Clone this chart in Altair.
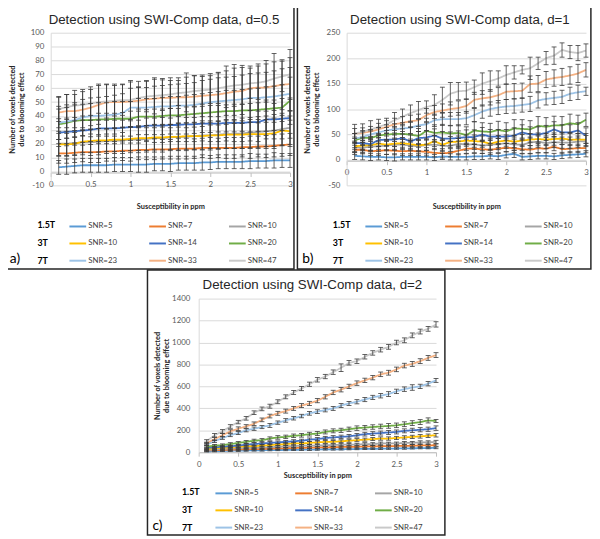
import altair as alt
import pandas as pd

# ---------------- data ----------------
X = [0.1, 0.2, 0.3, 0.4, 0.5, 0.6, 0.7, 0.8, 0.9, 1.0,
     1.1, 1.2, 1.3, 1.4, 1.5, 1.6, 1.7, 1.8, 1.9, 2.0,
     2.1, 2.2, 2.3, 2.4, 2.5, 2.6, 2.7, 2.8, 2.9, 3.0]

SERIES_KEYS = ["1|SNR=5", "2|SNR=7", "3|SNR=10", "4|SNR=10", "5|SNR=14",
               "6|SNR=20", "7|SNR=23", "8|SNR=33", "9|SNR=47"]
FIELD = ["1.5T", "1.5T", "1.5T", "3T", "3T", "3T", "7T", "7T", "7T"]
FIELD_ROWS = ["1.5T", "3T", "7T"]
COLORS = ["#5B9BD5", "#ED7D31", "#A5A5A5", "#FFC000", "#4472C4",
          "#70AD47", "#9DC3E6", "#F4B183", "#C9C9C9"]

# panel a, d=0.5
A_SNR5 = [3, 3.5, 4, 4.5, 4.5, 4.5, 4.5, 5, 5, 5, 5, 5, 5.5, 5.5, 5.5, 6, 6, 6, 6.5, 6.5, 7, 7, 7, 7, 7.5, 7.5, 7.5, 8, 8, 8]
A_SNR7 = [13, 13, 13.5, 14, 14, 14, 14.5, 14.5, 15, 15, 15.5, 15.5, 16, 16, 16, 16.5, 16.5, 16.5, 17, 17, 17, 17, 17, 17.5, 17.5, 18, 18, 18.5, 19, 19.5]
A_SNR10a = [20, 20, 20.5, 21, 21, 21.5, 22, 22, 22.5, 23, 23, 23.5, 24, 24, 24.5, 25, 25, 25.5, 26, 26, 26.5, 27, 27, 27.5, 28, 28.5, 29, 29.5, 30.5, 31.5]
A_SNR10b = [19.5, 19.5, 20, 21.5, 22, 22.5, 22.5, 23, 23, 23.5, 24, 24, 24.5, 24.5, 25, 25, 25.5, 25.5, 25.5, 26, 26, 26.5, 26.5, 26.5, 27, 27, 27, 27.5, 29.5, 29]
A_SNR14 = [28, 28.5, 29, 29.5, 30, 31, 31, 31, 31.5, 32, 32, 33, 33, 33, 33.5, 33.5, 34, 34, 34.5, 34.5, 34.5, 35, 35, 35, 35.5, 35.5, 37.5, 37.5, 38, 38.5]
A_SNR20 = [34, 35, 36.5, 37, 37, 37.5, 37.5, 38, 38, 38, 39.5, 39.5, 39.5, 40, 40.5, 40.5, 41, 41.5, 42, 42.5, 43, 43.5, 43.5, 44, 44, 44.5, 45, 45.5, 46, 51]
A_SNR23 = [35, 36, 37, 39, 40, 40, 40.5, 41, 42, 46, 46, 46, 46.5, 47, 47, 47.5, 47.5, 48, 49, 50, 50.5, 51, 51.5, 52, 53, 53, 53.5, 54, 55, 56]
A_SNR33 = [42.5, 43.5, 43.5, 44.5, 46, 48, 50, 50, 50, 50.5, 51, 52, 52.5, 53, 53, 53.5, 53.5, 54, 54.5, 55, 55.5, 56.5, 57.5, 58, 60, 60.5, 60.5, 61.5, 62.5, 63]
A_SNR47 = [45, 46.5, 47.5, 48, 49, 50, 50.5, 51, 51.5, 51.5, 53, 54, 54.5, 55, 55.5, 56.5, 57, 58, 58.5, 59, 60, 61, 62, 62.5, 63.5, 64, 65, 67, 68.5, 70]

A_ERR5 = [5, 5.5, 5, 5, 5, 5, 5, 5, 5, 5, 5.5, 5.5, 5, 5, 5.5, 5, 5, 5, 5.5, 5, 5, 5, 5, 5, 5.5, 5, 5, 5.5, 5, 5]
A_ERR7 = [7, 7, 7, 7, 7.5, 7.5, 7, 7, 7, 7.5, 7, 7, 7.5, 7, 7, 7.5, 7.5, 7, 7, 7.5, 7, 7.5, 7.5, 7, 8, 7.5, 8, 8, 8, 8]
A_ERR10a = [9, 9, 9, 9, 9.5, 9.5, 9, 9, 9.5, 9.5, 9.5, 9.5, 10, 10, 9.5, 10, 10, 10, 10.5, 10.5, 10, 10.5, 10.5, 11, 11, 11, 11, 11.5, 11.5, 12]
A_ERR10b = [8, 8, 8, 8, 8.5, 8.5, 8, 8.5, 8.5, 8.5, 9, 9, 9, 9, 9, 9.5, 9.5, 9.5, 9.5, 9.5, 10, 10, 10, 10, 10.5, 10.5, 10.5, 11, 11, 11]
A_ERR14 = [10, 10, 10, 10.5, 10.5, 11, 11, 11, 11, 11.5, 11.5, 11.5, 12, 12, 12, 12, 12.5, 12.5, 12.5, 13, 13, 13, 13.5, 13.5, 13.5, 14, 14, 14, 14.5, 14.5]
A_ERR20 = [11, 11, 11.5, 11.5, 12, 12, 12, 12.5, 12.5, 12.5, 13, 13, 13, 13.5, 13.5, 13.5, 14, 14, 14, 14.5, 14.5, 15, 15, 15, 15.5, 15.5, 16, 16, 16.5, 17]
A_ERR23 = [12, 12, 12.5, 13, 13, 13.5, 13.5, 14, 14, 14, 14.5, 14.5, 15, 15, 15.5, 15.5, 16, 16, 16.5, 16.5, 17, 17, 17, 17.5, 17.5, 18, 18, 18.5, 19, 19]
A_ERR33 = [11, 12, 12, 13, 13, 14, 13, 13, 13, 14, 14, 13.5, 14, 14, 14.5, 14, 14.5, 15, 15, 15.5, 16, 16, 17, 17, 16, 17, 17, 17.5, 18, 19]
A_ERR47 = [9, 9, 11, 11, 12, 13, 12, 11, 11, 14, 8, 11, 13, 11, 10, 9, 14, 11, 10, 10, 11, 15, 15, 14, 11, 12, 15, 18, 11, 18]

# panel b, d=1
B_SNR5 = [8, 7, 6, 6, 5, 5, 6, 6, 6, 6, 5, 7, 6, 6, 6, 7, 7, 8, 7, 10, 12, 6, 7, 8, 8, 7, 9, 10, 11, 12]
B_SNR7 = [20, 20, 17, 18, 19, 18, 17, 18, 17, 16, 14, 13, 14, 18, 22, 22, 21, 20, 22, 24, 23, 21, 20, 23, 22, 26, 21, 22, 23, 23]
B_SNR10a = [25, 24, 26, 27, 28, 30, 30, 28, 27, 29, 30, 28, 27, 32, 30, 31, 28, 30, 31, 33, 30, 30, 34, 36, 33, 35, 34, 34, 36, 37]
B_SNR10b = [27, 28, 29, 32, 30, 32, 33, 31, 29, 30, 37, 30, 35, 36, 38, 37, 36, 32, 36, 38, 36, 38, 40, 41, 40, 41, 42, 40, 40, 40]
B_SNR14 = [33, 33, 31, 39, 40, 40, 43, 36, 43, 44, 48, 42, 42, 43, 45, 45, 50, 46, 46, 46, 48, 54, 50, 50, 53, 60, 54, 54, 58, 48]
B_SNR20 = [38, 44, 43, 48, 50, 51, 51, 50, 47, 57, 53, 54, 52, 53, 49, 58, 56, 55, 59, 56, 62, 61, 60, 67, 65, 68, 68, 72, 70, 79]
B_SNR23 = [42, 45, 50, 54, 58, 60, 62, 63, 68, 70, 78, 80, 80, 80, 82, 88, 95, 100, 103, 105, 106, 108, 110, 117, 120, 122, 124, 130, 133, 135]
B_SNR33 = [52, 53, 56, 60, 65, 70, 73, 76, 78, 88, 94, 97, 100, 102, 106, 118, 121, 123, 127, 134, 135, 136, 149, 150, 158, 161, 163, 166, 170, 177]
B_SNR47 = [52, 55, 60, 65, 70, 78, 85, 92, 98, 104, 108, 118, 130, 135, 136, 143, 150, 155, 160, 167, 172, 177, 180, 190, 200, 205, 216, 212, 210, 215]

B_ERR5 = [7, 7, 7, 6, 6, 7, 6, 6, 6, 6, 6, 6, 6, 6, 6, 6, 6, 6, 6, 6, 7, 6, 6, 6, 6, 6, 6, 6, 6, 6]
B_ERR7 = [9, 8, 8, 9, 8, 8, 8, 9, 8, 8, 8, 9, 8, 8, 9, 8, 8, 9, 8, 8, 9, 8, 8, 9, 8, 8, 9, 8, 8, 9]
B_ERR10a = [10, 10, 10, 10, 10, 11, 10, 10, 11, 10, 10, 11, 10, 10, 11, 10, 10, 11, 11, 10, 11, 11, 11, 11, 11, 11, 11, 11, 11, 11]
B_ERR10b = [10, 10, 10, 11, 10, 11, 11, 10, 11, 11, 11, 11, 11, 11, 11, 12, 11, 11, 12, 11, 12, 12, 12, 12, 12, 12, 12, 12, 12, 12]
B_ERR14 = [12, 12, 12, 13, 12, 13, 13, 13, 13, 13, 13, 14, 13, 14, 14, 14, 14, 14, 14, 14, 15, 15, 15, 15, 15, 15, 15, 15, 15, 15]
B_ERR20 = [14, 14, 14, 15, 14, 15, 16, 15, 15, 16, 16, 16, 16, 16, 16, 17, 17, 17, 17, 17, 17, 18, 17, 18, 18, 18, 17, 18, 18, 13]
B_ERR23 = [10, 10, 10, 10, 11, 11, 11, 11, 12, 12, 12, 12, 13, 13, 13, 13, 13, 14, 14, 14, 14, 14, 15, 15, 12, 13, 13, 13, 14, 8]
B_ERR33 = [10, 10, 10, 12, 12, 12, 12, 12, 12, 13, 13, 13, 14, 14, 14, 15, 15, 15, 15, 15, 15, 15, 16, 16, 16, 16, 17, 17, 18, 14]
B_ERR47 = [18, 16, 17, 15, 12, 15, 15, 16, 17, 12, 20, 25, 22, 17, 17, 14, 21, 20, 15, 18, 13, 8, 22, 12, 13, 17, 14, 13, 15, 13]

# panel c, d=2
C_SNR5 = [8, 10, 12, 13, 15, 16, 17, 18, 19, 20, 21, 22, 23, 24, 25, 26, 27, 27, 28, 30, 30, 31, 32, 33, 34, 35, 36, 37, 38, 40]
C_SNR7 = [15, 18, 20, 22, 25, 27, 28, 30, 32, 35, 36, 38, 40, 42, 43, 45, 46, 48, 50, 50, 52, 54, 55, 55, 57, 58, 60, 62, 62, 65]
C_SNR10a = [20, 25, 30, 35, 35, 40, 40, 45, 45, 50, 55, 55, 60, 60, 60, 65, 65, 70, 70, 70, 75, 75, 80, 80, 80, 85, 85, 90, 90, 95]
C_SNR10b = [30, 35, 40, 45, 50, 55, 55, 60, 65, 70, 75, 80, 80, 85, 90, 95, 95, 100, 105, 110, 115, 120, 125, 125, 130, 135, 140, 145, 150, 155]
C_SNR14 = [40, 45, 50, 55, 60, 70, 75, 80, 85, 90, 95, 100, 105, 115, 120, 130, 135, 140, 145, 155, 165, 170, 175, 180, 185, 195, 200, 205, 210, 220]
C_SNR20 = [50, 60, 65, 75, 85, 95, 105, 110, 125, 135, 140, 150, 155, 165, 170, 185, 195, 200, 210, 220, 225, 230, 235, 240, 245, 255, 265, 275, 290, 285]
C_SNR23 = [70, 100, 130, 155, 175, 200, 215, 230, 245, 270, 290, 310, 330, 355, 370, 385, 400, 425, 445, 460, 480, 500, 515, 530, 555, 575, 590, 600, 625, 655]
C_SNR33 = [80, 120, 155, 190, 215, 235, 260, 295, 330, 355, 375, 400, 425, 445, 470, 505, 545, 570, 600, 630, 655, 680, 710, 725, 755, 790, 805, 830, 860, 885]
C_SNR47 = [100, 155, 190, 235, 275, 310, 360, 395, 420, 460, 505, 545, 580, 620, 660, 690, 730, 770, 815, 830, 870, 905, 935, 960, 1000, 1020, 1065, 1100, 1125, 1165]

C_ERR5 = [5, 6, 6, 6, 7, 6, 6, 7, 6, 6, 7, 6, 6, 7, 6, 6, 7, 6, 6, 7, 6, 6, 7, 6, 6, 7, 6, 6, 7, 8]
C_ERR7 = [6, 7, 7, 7, 8, 7, 7, 8, 7, 7, 8, 8, 7, 8, 8, 8, 8, 8, 8, 9, 8, 8, 9, 8, 9, 9, 9, 9, 9, 10]
C_ERR10a = [7, 8, 8, 8, 9, 9, 9, 10, 9, 10, 10, 10, 10, 11, 11, 11, 11, 12, 11, 12, 12, 12, 13, 12, 13, 13, 13, 14, 14, 14]
C_ERR10b = [8, 8, 9, 9, 10, 10, 10, 11, 11, 11, 12, 12, 12, 12, 13, 13, 13, 13, 14, 14, 14, 14, 15, 15, 15, 15, 15, 16, 16, 16]
C_ERR14 = [8, 9, 10, 10, 11, 11, 12, 12, 13, 13, 13, 14, 14, 15, 15, 15, 16, 16, 16, 17, 17, 17, 18, 18, 18, 18, 19, 19, 19, 20]
C_ERR20 = [10, 10, 11, 12, 12, 13, 14, 14, 15, 16, 16, 16, 17, 17, 18, 18, 18, 19, 19, 20, 20, 20, 21, 21, 21, 22, 22, 22, 23, 14]
C_ERR23 = [10, 12, 12, 13, 14, 14, 15, 15, 18, 15, 16, 16, 16, 17, 17, 17, 18, 18, 18, 19, 19, 19, 20, 22, 20, 20, 25, 20, 20, 18]
C_ERR33 = [12, 14, 15, 15, 16, 16, 16, 17, 17, 18, 18, 18, 18, 19, 19, 19, 20, 20, 20, 20, 20, 20, 21, 22, 21, 21, 22, 22, 22, 22]
C_ERR47 = [14, 15, 16, 16, 16, 17, 17, 17, 18, 18, 18, 18, 19, 19, 20, 20, 20, 35, 20, 20, 20, 20, 21, 21, 21, 22, 22, 22, 22, 24]

TITLES = ["Detection using SWI-Comp data, d=0.5",
          "Detection using SWI-Comp data, d=1",
          "Detection using SWI-Comp data, d=2"]
TAGS = ["a)", "b)", "c)"]
X_TICKS = [0, 0.5, 1, 1.5, 2, 2.5, 3]
A_YTICKS = [-10, 0, 10, 20, 30, 40, 50, 60, 70, 80, 90, 100]
B_YTICKS = [-50, 0, 50, 100, 150, 200, 250]
C_YTICKS = [0, 200, 400, 600, 800, 1000, 1200, 1400]
Y_TITLE = ["Number of voxels detected", "due to blooming effect"]
X_TITLE = "Susceptibility in ppm"

FONT = "Lato"
EB = "#3A3A3A"


def panel(means, errs, title, tag, W, H, xr, ydom, yr, yvals, axis_y,
          title_x, xtp, ylp, ytp, leg_y, tag_x, tag_pad):
    rows = []
    for key, fld, m, e in zip(SERIES_KEYS, FIELD, means, errs):
        for x, v, d in zip(X, m, e):
            rows.append(dict(x=x, v=v, lo=v - d, hi=v + d, key=key, field=fld))
    df = pd.DataFrame(rows)

    xs = alt.Scale(domain=[0, 3], range=xr, nice=False, zero=False)
    ys = alt.Scale(domain=ydom, range=yr, nice=False, zero=False)
    xax = alt.Axis(values=X_TICKS, labelExpr="'' + datum.value", offset=axis_y - H,
                   grid=False, domainColor="#BFBFBF", domainWidth=1,
                   tickColor="#BFBFBF", tickSize=4, labelFont=FONT, labelFontSize=8,
                   labelColor="#595959", labelPadding=4, labelFlush=False,
                   title=X_TITLE, titleFont=FONT, titleFontSize=7.5,
                   titleFontWeight="bold", titleColor="#262626", titlePadding=xtp)
    yax = alt.Axis(values=yvals, labelExpr="'' + datum.value", offset=-xr[0],
                   grid=True, gridColor="#D9D9D9", gridWidth=1,
                   domainColor="#D9D9D9", ticks=False, labelFont=FONT,
                   labelFontSize=8, labelColor="#595959", labelPadding=ylp,
                   labelFlush=False, labelOverlap=False, labelBound=False,
                   labelBaseline="middle",
                   title=Y_TITLE, titleFont=FONT, titleFontSize=7.5,
                   titleFontWeight="bold", titleColor="#262626",
                   titlePadding=ytp, titleLineHeight=9)
    xenc = alt.X("x:Q", scale=xs, axis=xax)

    color = alt.Color(
        "key:N",
        scale=alt.Scale(domain=SERIES_KEYS, range=COLORS),
        legend=alt.Legend(orient="none", legendX=68, legendY=leg_y, title=None,
                          columns=3, direction="horizontal",
                          symbolType="stroke", symbolSize=289,
                          symbolStrokeWidth=2,
                          labelExpr="split(datum.label, '|')[1]",
                          labelFont=FONT, labelFontSize=8, labelColor="#404040",
                          labelOffset=1, columnPadding=28, rowPadding=3.5,
                          gridAlign="all", padding=0),
    )
    dash = alt.StrokeDash(
        "field:N",
        scale=alt.Scale(domain=FIELD_ROWS, range=[[1, 0], [1, 0], [1, 0]]),
        legend=alt.Legend(orient="none", legendX=tag_x, legendY=leg_y + 4,
                          direction="vertical", title=tag, titleOrient="left",
                          titleAnchor="end", titleFont=FONT, titleFontSize=14,
                          titleFontWeight="normal", titleColor="#000000",
                          titlePadding=tag_pad, symbolOpacity=0, symbolSize=0,
                          symbolStrokeWidth=0, labelFont=FONT, labelFontSize=9,
                          labelFontWeight="bold", labelColor="#000000",
                          labelOffset=0, rowPadding=8, padding=0),
    )

    lines = alt.Chart(df).mark_line(strokeWidth=1.8).encode(
        x=xenc, y=alt.Y("v:Q", scale=ys, axis=yax), color=color, strokeDash=dash)
    bars = alt.Chart(df).mark_rule(color=EB, strokeWidth=0.8).encode(
        x=xenc, y=alt.Y("lo:Q", scale=ys, axis=yax), y2="hi:Q")
    cap_lo = alt.Chart(df).mark_tick(orient="horizontal", size=5, thickness=0.8,
                                     color=EB, opacity=1).encode(
        x=xenc, y=alt.Y("lo:Q", scale=ys, axis=yax))
    cap_hi = alt.Chart(df).mark_tick(orient="horizontal", size=5, thickness=0.8,
                                     color=EB, opacity=1).encode(
        x=xenc, y=alt.Y("hi:Q", scale=ys, axis=yax))
    # panel frame and panel heading (decoration)
    head = pd.DataFrame({"title": [title]})
    frame = alt.Chart(head).mark_rect(fillOpacity=0, stroke="#262626",
                                      strokeWidth=1.5).encode(
        x=alt.value(0), x2=alt.value(W), y=alt.value(0), y2=alt.value(H))
    heading = alt.Chart(head).mark_text(font="Liberation Sans", fontSize=13.5,
                                        color="#262626", align="center",
                                        baseline="alphabetic").encode(
        text="title:N", x=alt.value(title_x), y=alt.value(19.5))

    return alt.layer(lines, bars, cap_lo, cap_hi, frame, heading).properties(
        width=W, height=H)


pa = panel([A_SNR5, A_SNR7, A_SNR10a, A_SNR10b, A_SNR14, A_SNR20, A_SNR23, A_SNR33, A_SNR47],
           [A_ERR5, A_ERR7, A_ERR10a, A_ERR10b, A_ERR14, A_ERR20, A_ERR23, A_ERR33, A_ERR47],
           TITLES[0], TAGS[0], 297, 268, [50, 293], [-10, 100], [183, 28], A_YTICKS,
           170, 165, 15, 7, 5, 215, 8.5, 8)
pb = panel([B_SNR5, B_SNR7, B_SNR10a, B_SNR10b, B_SNR14, B_SNR20, B_SNR23, B_SNR33, B_SNR47],
           [B_ERR5, B_ERR7, B_ERR10a, B_ERR10b, B_ERR14, B_ERR20, B_ERR23, B_ERR33, B_ERR47],
           TITLES[1], TAGS[1], 298, 268, [50, 293], [-50, 250], [183, 28], B_YTICKS,
           158, 165, 27, 7, 6, 215, 5, 10)
pc = panel([C_SNR5, C_SNR7, C_SNR10a, C_SNR10b, C_SNR14, C_SNR20, C_SNR23, C_SNR33, C_SNR47],
           [C_ERR5, C_ERR7, C_ERR10a, C_ERR10b, C_ERR14, C_ERR20, C_ERR23, C_ERR33, C_ERR47],
           TITLES[2], TAGS[2], 302, 269, [52, 293], [0, 1400], [185, 29], C_YTICKS,
           185, 167.5, 4, 9, 1, 217, 5, 10)

top = alt.hconcat(pa, pb, spacing=1.5).resolve_scale(
    x="independent", y="independent", color="independent", strokeDash="independent"
).resolve_legend(color="independent", strokeDash="independent")

chart = alt.vconcat(top, pc, spacing=-1, center=True).resolve_scale(
    x="independent", y="independent", color="independent", strokeDash="independent"
).resolve_legend(color="independent", strokeDash="independent").properties(
    padding={"left": -8, "top": -8, "right": 0, "bottom": 0}
).configure_view(strokeWidth=0)

chart.save("out.html", embed_options={"renderer": "svg", "actions": False})
